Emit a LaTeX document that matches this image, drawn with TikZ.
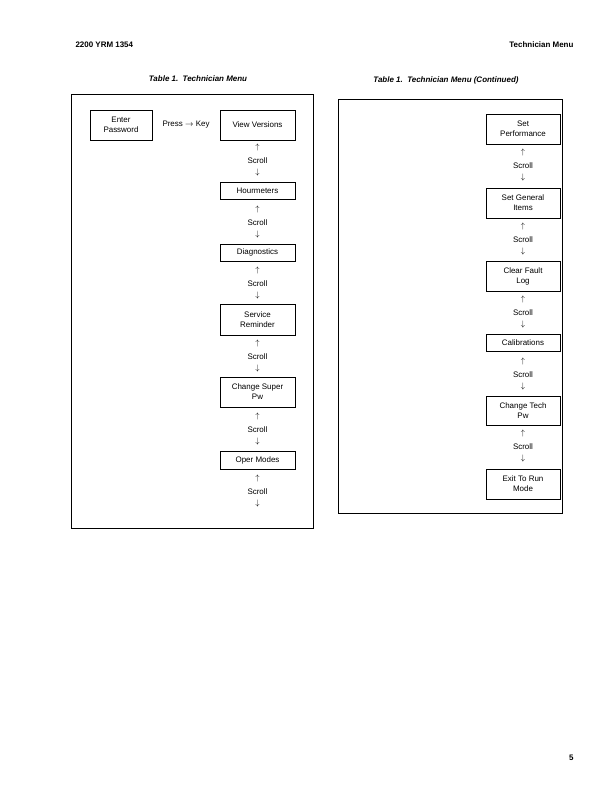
\documentclass[tikz,border=0pt]{standalone}
\usepackage{fontspec}
\setmainfont{Liberation Sans}
\begin{document}
\begin{tikzpicture}[x=1bp,y=-1bp,
  box/.style={draw,line width=0.8pt,align=center,font=\fontsize{8}{10}\selectfont,inner sep=0pt},
  txt/.style={font=\fontsize{8}{10}\selectfont,inner sep=0pt},
  frame/.style={draw,line width=0.8pt}]
\useasboundingbox (0,0) rectangle (612,792);
\node[anchor=west,font=\bfseries\fontsize{8}{10}\selectfont] (h1) at (72,45) {2200 YRM 1354};
\node[anchor=east,font=\bfseries\fontsize{8}{10}\selectfont] (h2) at (577,45) {Technician Menu};
\node[anchor=east,font=\bfseries\fontsize{8}{10}\selectfont] (pg) at (577,758) {5};
\node[font=\bfseries\itshape\fontsize{8}{10}\selectfont] (c1) at (198,79) {Table 1.\ \ Technician Menu};
\node[font=\bfseries\itshape\fontsize{8}{10}\selectfont] (c2) at (446,80) {Table 1.\ \ Technician Menu (Continued)};
\draw[frame] (71,94) rectangle (313,528);
\draw[frame] (338,99) rectangle (562,513);
% left
\newcommand{\mybox}[6]{\node[box,minimum width=#3,minimum height=#4-#5] (#1) at (#2,{(#4+#5)/2}) {#6};}
\newcommand{\myscroll}[3]{\node[txt] (#1a) at (#2,#3) {$\uparrow$};\node[txt] (#1b) at (#2,#3+13) {Scroll};\node[txt] (#1c) at (#2,#3+25) {$\downarrow$};}
\mybox{ep}{121}{62bp}{140}{110}{Enter\\Password}
\node[txt] (pk) at (186,125) {Press $\rightarrow$ Key};
\mybox{vv}{257.5}{75bp}{140}{110}{View Versions}
\myscroll{s1}{257.5}{148}
\mybox{hm}{257.5}{75bp}{199}{182}{Hourmeters}
\myscroll{s2}{257.5}{210}
\mybox{dg}{257.5}{75bp}{261}{244}{Diagnostics}
\myscroll{s3}{257.5}{271}
\mybox{sr}{257.5}{75bp}{335}{304}{Service\\Reminder}
\myscroll{s4}{257.5}{344}
\mybox{cs}{257.5}{75bp}{407}{377}{Change Super\\Pw}
\myscroll{s5}{257.5}{417}
\mybox{om}{257.5}{75bp}{469}{451}{Oper Modes}
\myscroll{s6}{257.5}{479}
% right
\mybox{sp}{523}{74bp}{144}{114}{Set\\Performance}
\myscroll{r1}{523}{153}
\mybox{sg}{523}{74bp}{218}{188}{Set General\\Items}
\myscroll{r2}{523}{227}
\mybox{cf}{523}{74bp}{291}{261}{Clear Fault\\Log}
\myscroll{r3}{523}{300}
\mybox{cb}{523}{74bp}{351}{334}{Calibrations}
\myscroll{r4}{523}{362}
\mybox{ct}{523}{74bp}{425}{396}{Change Tech\\Pw}
\myscroll{r5}{523}{434}
\mybox{ex}{523}{74bp}{499}{469}{Exit To Run\\Mode}
\end{tikzpicture}
\end{document}
